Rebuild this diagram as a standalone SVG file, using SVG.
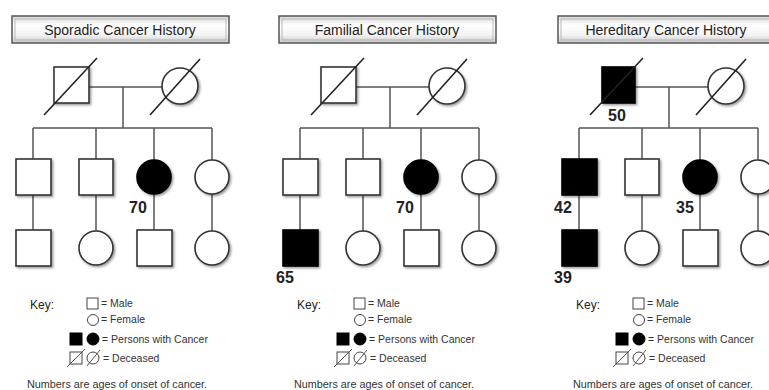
<svg xmlns="http://www.w3.org/2000/svg" width="769" height="390" viewBox="0 0 769 390">
<defs>
<filter id="sh" x="-20%" y="-20%" width="150%" height="150%">
<feDropShadow dx="1.5" dy="1.5" stdDeviation="0.9" flood-color="#000" flood-opacity="0.4"/>
</filter>
<linearGradient id="hg" x1="0" y1="0" x2="0" y2="1">
<stop offset="0" stop-color="#d8d8d8"/>
<stop offset="0.35" stop-color="#ffffff"/>
<stop offset="0.7" stop-color="#f4f4f4"/>
<stop offset="1" stop-color="#c8c8c8"/>
</linearGradient>
</defs>
<style>
.hdr{fill:url(#hg);stroke:#555;stroke-width:1.5}
.hin{fill:none;stroke:#aaa;stroke-width:0.8}
.ht{font-family:"Liberation Sans",Arial,sans-serif;font-size:14px;fill:#222;text-anchor:middle}
.p{fill:#fff;stroke:#333;stroke-width:1.6;filter:url(#sh)}
.a{fill:#000;stroke:#000;stroke-width:1.6;filter:url(#sh)}
.d{stroke:#222;stroke-width:1.6;fill:none}
.c{stroke:#555;stroke-width:1.5;fill:none}
.n{font-family:"Liberation Sans",Arial,sans-serif;font-size:16px;font-weight:bold;fill:#222;text-anchor:middle}
.k{font-family:"Liberation Sans",Arial,sans-serif;font-size:12px;fill:#222}
.ks{font-family:"Liberation Sans",Arial,sans-serif;font-size:10.5px;fill:#333}
.kp{fill:#fff;stroke:#444;stroke-width:1}
.ka{fill:#000;stroke:#000;stroke-width:1}
.kd{stroke:#444;stroke-width:0.9;fill:none}
.ft{font-family:"Liberation Sans",Arial,sans-serif;font-size:10.8px;fill:#333}
</style>
<rect width="769" height="390" fill="#fff"/>

<!-- Panel 1: Sporadic -->
<g id="panel-sporadic">
<g id="s-header"><rect class="hdr" x="12" y="16" width="217" height="27"/><rect class="hin" x="15" y="19" width="211" height="21"/><text class="ht" x="120" y="35">Sporadic Cancer History</text></g>
<g id="s-connectors">
<line class="c" x1="89" y1="87" x2="162" y2="87"/>
<line class="c" x1="123" y1="87" x2="123" y2="128"/>
<line class="c" x1="33" y1="128" x2="212" y2="128"/>
<line class="c" x1="33" y1="128" x2="33" y2="159"/>
<line class="c" x1="96" y1="128" x2="96" y2="159"/>
<line class="c" x1="154" y1="128" x2="154" y2="160"/>
<line class="c" x1="212" y1="128" x2="212" y2="160"/>
<line class="c" x1="33" y1="195" x2="33" y2="230"/>
<line class="c" x1="96" y1="195" x2="96" y2="231"/>
<line class="c" x1="154" y1="194" x2="154" y2="230"/>
<line class="c" x1="212" y1="194" x2="212" y2="231"/>
</g>
<g id="s-gf"><rect class="p" x="54" y="67" width="35" height="36"/><line class="d" x1="44" y1="115" x2="97" y2="58"/></g>
<g id="s-gm"><circle class="p" cx="180" cy="86" r="18"/><line class="d" x1="150" y1="115" x2="200" y2="59"/></g>
<g id="s-c1"><rect class="p" x="16" y="159" width="35" height="36"/></g>
<g id="s-c2"><rect class="p" x="79" y="159" width="34" height="36"/></g>
<g id="s-c3"><circle class="a" cx="154" cy="177" r="17"/><text class="n" x="138" y="213">70</text></g>
<g id="s-c4"><circle class="p" cx="212" cy="177" r="17"/></g>
<g id="s-g1"><rect class="p" x="16" y="230" width="35" height="36"/></g>
<g id="s-g2"><circle class="p" cx="96" cy="248" r="17"/></g>
<g id="s-g3"><rect class="p" x="137" y="230" width="35" height="36"/></g>
<g id="s-g4"><circle class="p" cx="212" cy="248" r="17"/></g>
<g id="s-key">
<text class="k" x="30" y="309">Key:</text>
<rect class="kp" x="87" y="298" width="11" height="11"/><text class="ks" x="101" y="307">= Male</text>
<circle class="kp" cx="93" cy="320" r="5.5"/><text class="ks" x="101" y="323">= Female</text>
<rect class="ka" x="70" y="333" width="12" height="12"/><circle class="ka" cx="93" cy="339" r="6"/><text class="ks" x="102" y="343">= Persons with Cancer</text>
<rect class="kp" x="70" y="352" width="12" height="12"/><line class="kd" x1="67" y1="367" x2="85" y2="349"/>
<circle class="kp" cx="93" cy="358" r="6"/><line class="kd" x1="87" y1="366" x2="100" y2="350"/><text class="ks" x="103" y="362">= Deceased</text>
<text class="ft" x="27" y="388">Numbers are ages of onset of cancer.</text>
</g>
</g>

<!-- Panel 2: Familial -->
<g id="panel-familial" transform="translate(267,0)">
<g id="f-header"><rect class="hdr" x="12" y="16" width="217" height="27"/><rect class="hin" x="15" y="19" width="211" height="21"/><text class="ht" x="120" y="35">Familial Cancer History</text></g>
<g id="f-connectors">
<line class="c" x1="89" y1="87" x2="162" y2="87"/>
<line class="c" x1="123" y1="87" x2="123" y2="128"/>
<line class="c" x1="33" y1="128" x2="212" y2="128"/>
<line class="c" x1="33" y1="128" x2="33" y2="159"/>
<line class="c" x1="96" y1="128" x2="96" y2="159"/>
<line class="c" x1="154" y1="128" x2="154" y2="160"/>
<line class="c" x1="212" y1="128" x2="212" y2="160"/>
<line class="c" x1="33" y1="195" x2="33" y2="230"/>
<line class="c" x1="96" y1="195" x2="96" y2="231"/>
<line class="c" x1="154" y1="194" x2="154" y2="230"/>
<line class="c" x1="212" y1="194" x2="212" y2="231"/>
</g>
<g id="f-gf"><rect class="p" x="54" y="67" width="35" height="36"/><line class="d" x1="44" y1="115" x2="97" y2="58"/></g>
<g id="f-gm"><circle class="p" cx="180" cy="86" r="18"/><line class="d" x1="150" y1="115" x2="200" y2="59"/></g>
<g id="f-c1"><rect class="p" x="16" y="159" width="35" height="36"/></g>
<g id="f-c2"><rect class="p" x="79" y="159" width="34" height="36"/></g>
<g id="f-c3"><circle class="a" cx="154" cy="177" r="17"/><text class="n" x="138" y="213">70</text></g>
<g id="f-c4"><circle class="p" cx="212" cy="177" r="17"/></g>
<g id="f-g1"><rect class="a" x="16" y="230" width="35" height="36"/><text class="n" x="18" y="283">65</text></g>
<g id="f-g2"><circle class="p" cx="96" cy="248" r="17"/></g>
<g id="f-g3"><rect class="p" x="137" y="230" width="35" height="36"/></g>
<g id="f-g4"><circle class="p" cx="212" cy="248" r="17"/></g>
<g id="f-key">
<text class="k" x="30" y="309">Key:</text>
<rect class="kp" x="87" y="298" width="11" height="11"/><text class="ks" x="101" y="307">= Male</text>
<circle class="kp" cx="93" cy="320" r="5.5"/><text class="ks" x="101" y="323">= Female</text>
<rect class="ka" x="70" y="333" width="12" height="12"/><circle class="ka" cx="93" cy="339" r="6"/><text class="ks" x="102" y="343">= Persons with Cancer</text>
<rect class="kp" x="70" y="352" width="12" height="12"/><line class="kd" x1="67" y1="367" x2="85" y2="349"/>
<circle class="kp" cx="93" cy="358" r="6"/><line class="kd" x1="87" y1="366" x2="100" y2="350"/><text class="ks" x="103" y="362">= Deceased</text>
<text class="ft" x="27" y="388">Numbers are ages of onset of cancer.</text>
</g>
</g>

<!-- Panel 3: Hereditary -->
<g id="panel-hereditary" transform="translate(546,0)">
<g id="h-header"><rect class="hdr" x="12" y="16" width="217" height="27"/><rect class="hin" x="15" y="19" width="211" height="21"/><text class="ht" x="120" y="35">Hereditary Cancer History</text></g>
<g id="h-connectors">
<line class="c" x1="89" y1="87" x2="162" y2="87"/>
<line class="c" x1="123" y1="87" x2="123" y2="128"/>
<line class="c" x1="33" y1="128" x2="212" y2="128"/>
<line class="c" x1="33" y1="128" x2="33" y2="159"/>
<line class="c" x1="96" y1="128" x2="96" y2="159"/>
<line class="c" x1="154" y1="128" x2="154" y2="160"/>
<line class="c" x1="212" y1="128" x2="212" y2="160"/>
<line class="c" x1="33" y1="195" x2="33" y2="230"/>
<line class="c" x1="96" y1="195" x2="96" y2="231"/>
<line class="c" x1="154" y1="194" x2="154" y2="230"/>
<line class="c" x1="212" y1="194" x2="212" y2="231"/>
</g>
<g id="h-gf"><rect class="a" x="56" y="67" width="33" height="36"/><line class="d" x1="44" y1="115" x2="97" y2="58"/><text class="n" x="71" y="121">50</text></g>
<g id="h-gm"><circle class="p" cx="180" cy="86" r="18"/><line class="d" x1="150" y1="115" x2="200" y2="59"/></g>
<g id="h-c1"><rect class="a" x="16" y="159" width="35" height="36"/><text class="n" x="17" y="213">42</text></g>
<g id="h-c2"><rect class="p" x="79" y="159" width="34" height="36"/></g>
<g id="h-c3"><circle class="a" cx="154" cy="177" r="17"/><text class="n" x="139" y="213">35</text></g>
<g id="h-c4"><circle class="p" cx="212" cy="177" r="17"/></g>
<g id="h-g1"><rect class="a" x="16" y="230" width="35" height="36"/><text class="n" x="17" y="283">39</text></g>
<g id="h-g2"><circle class="p" cx="96" cy="248" r="17"/></g>
<g id="h-g3"><rect class="p" x="137" y="230" width="35" height="36"/></g>
<g id="h-g4"><circle class="p" cx="212" cy="248" r="17"/></g>
<g id="h-key">
<text class="k" x="30" y="309">Key:</text>
<rect class="kp" x="87" y="298" width="11" height="11"/><text class="ks" x="101" y="307">= Male</text>
<circle class="kp" cx="93" cy="320" r="5.5"/><text class="ks" x="101" y="323">= Female</text>
<rect class="ka" x="70" y="333" width="12" height="12"/><circle class="ka" cx="93" cy="339" r="6"/><text class="ks" x="102" y="343">= Persons with Cancer</text>
<rect class="kp" x="70" y="352" width="12" height="12"/><line class="kd" x1="67" y1="367" x2="85" y2="349"/>
<circle class="kp" cx="93" cy="358" r="6"/><line class="kd" x1="87" y1="366" x2="100" y2="350"/><text class="ks" x="103" y="362">= Deceased</text>
<text class="ft" x="27" y="388">Numbers are ages of onset of cancer.</text>
</g>
</g>
</svg>
